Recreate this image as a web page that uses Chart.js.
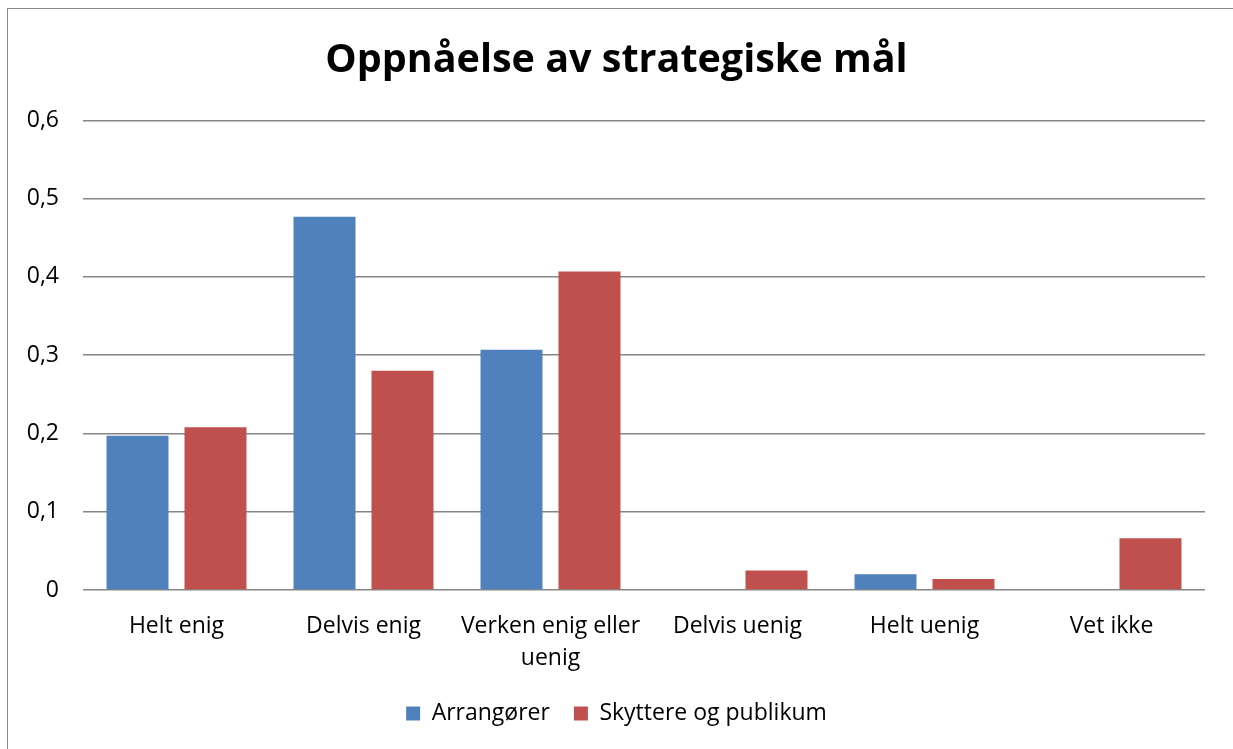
<!DOCTYPE html>
<html>
<head>
<meta charset="utf-8">
<script src="https://cdn.jsdelivr.net/npm/chart.js@4"></script>
<style>
  html, body { margin: 0; padding: 0; background: #fff; overflow: hidden; }
  #wrap { position: absolute; left: 0; top: 0; width: 1233px; height: 749px; }
  #frame { position: absolute; left: 7px; top: 8px; width: 1240px; height: 760px; border: 1px solid #898989; box-sizing: border-box; pointer-events: none; }
  canvas { position: absolute; left: 0; top: 0; }
</style>
</head>
<body>
<div id="wrap">
  <canvas id="c" width="1233" height="749"></canvas>
  <div id="frame"></div>
</div>
<script>
const titleText = 'Oppnåelse av strategiske mål';
const categories = ['Helt enig', 'Delvis enig', ['Verken enig eller', 'uenig'], 'Delvis uenig', 'Helt uenig', 'Vet ikke'];
const seriesNames = ['Arrangører', 'Skyttere og publikum'];
const arrangorer = [0.197, 0.477, 0.307, 0, 0.020, 0];
const skyttere = [0.208, 0.280, 0.407, 0.025, 0.014, 0.066];
const yTickLabels = ['0', '0,1', '0,2', '0,3', '0,4', '0,5', '0,6'];

const FONT = '"Open Sans", Carlito, Calibri, sans-serif';

new Chart(document.getElementById('c'), {
  type: 'bar',
  data: {
    labels: categories,
    datasets: [
      { label: seriesNames[0], data: arrangorer, backgroundColor: '#4F81BD', borderWidth: 0 },
      { label: seriesNames[1], data: skyttere, backgroundColor: '#C0504D', borderWidth: 0 }
    ]
  },
  options: {
    responsive: false,
    animation: false,
    devicePixelRatio: 1,
    layout: { padding: { left: 0, right: 0, top: 0, bottom: 14 } },
    datasets: { bar: { categoryPercentage: 0.834, barPercentage: 0.795 } },
    plugins: {
      title: {
        display: true,
        text: titleText,
        color: '#000',
        font: { family: FONT, size: 39.5, weight: 'bold', lineHeight: 1.2 },
        padding: { top: 37, bottom: 36 }
      },
      legend: {
        position: 'bottom',
        labels: {
          color: '#000',
          font: { family: FONT, size: 23 },
          boxWidth: 14, boxHeight: 14,
          padding: 24
        }
      },
      tooltip: { enabled: false }
    },
    scales: {
      x: {
        grid: { display: false, drawTicks: false },
        border: { display: false },
        ticks: { color: '#000', font: { family: FONT, size: 23, lineHeight: 1.39 }, padding: 20, maxRotation: 0, autoSkip: false },
        afterFit: (s) => { s.height = 88; }
      },
      y: {
        min: 0, max: 0.6,
        grid: { color: '#868686', lineWidth: 1.5, drawTicks: false },
        border: { display: false },
        ticks: {
          stepSize: 0.1,
          color: '#000',
          font: { family: FONT, size: 23 },
          padding: 24,
          callback: (v, i) => yTickLabels[i]
        },
        afterFit: (s) => { s.width = 83; }
      },
      yRight: {
        position: 'right',
        display: true,
        grid: { display: false, drawTicks: false },
        border: { display: false },
        ticks: { display: false },
        afterFit: (s) => { s.width = 28; }
      }
    }
  }
});
</script>
</body>
</html>
